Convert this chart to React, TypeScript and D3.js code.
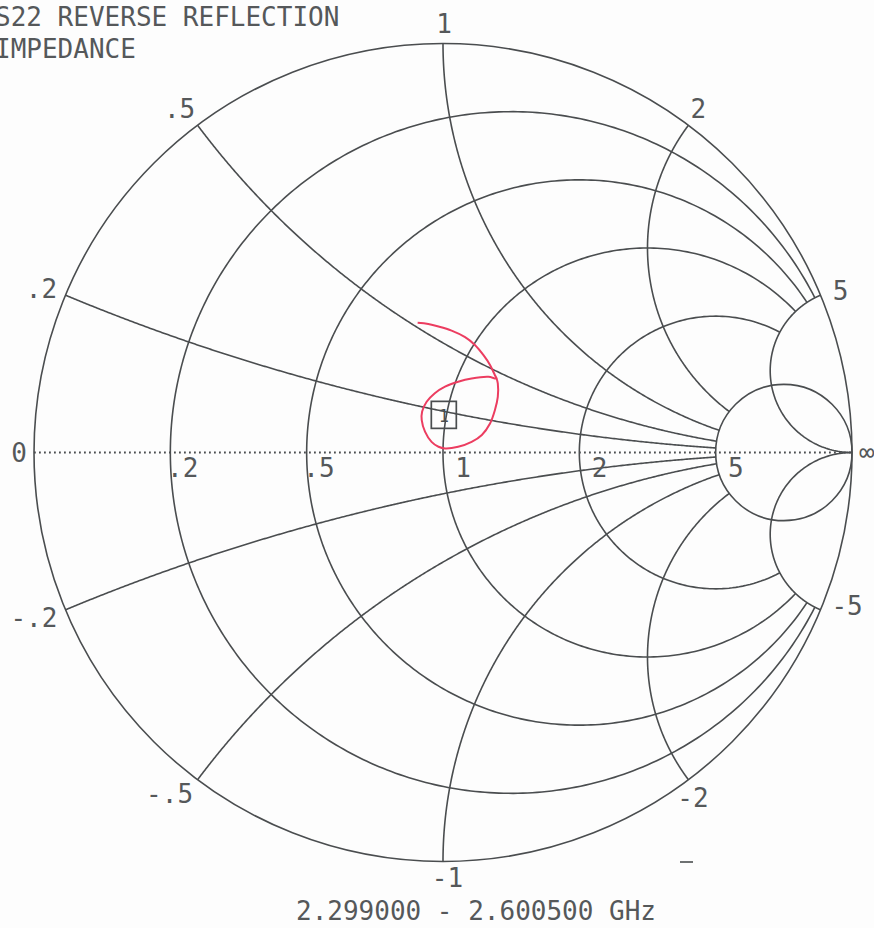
import React from "react";
import * as d3 from "d3";

// ---- data ----
const resistanceCircles = [0.2, 0.5, 1, 2];
const fullResistanceCircles = [5];
const reactanceArcs = [0.2, 0.5, 1, 2, -0.2, -0.5, -1, -2];
const fullReactanceArcs = [5, -5];
const rimLabelValues = [1, 0.5, 2, 0.2, 5, -0.2, -0.5, -1, -2, -5];
const rimLabels = ["1", ".5", "2", ".2", "5", "-.2", "-.5", "-1", "-2", "-5"];
const axisLabelValues = [0.2, 0.5, 1, 2, 5];
const axisLabels = [".2", ".5", "1", "2", "5"];
const titleLines = ["S22 REVERSE REFLECTION", "IMPEDANCE"];
const sweepLabel = "2.299000 - 2.600500 GHz";

// S22 trace (reflection coefficient, real / imaginary)
const traceRe = [
  -0.062, -0.036, -0.011, 0.021, 0.054, 0.078, 0.099, 0.115, 0.127, 0.131,
  0.111, 0.07, 0.037, 0.005, -0.02, -0.04, -0.051, -0.052, -0.044, -0.028,
  -0.011, 0.005, 0.037, 0.07, 0.095, 0.115, 0.127, 0.134, 0.134, 0.131,
];
const traceIm = [
  0.317, 0.314, 0.308, 0.298, 0.282, 0.263, 0.238, 0.214, 0.189, 0.181,
  0.185, 0.181, 0.173, 0.161, 0.145, 0.124, 0.1, 0.079, 0.051, 0.026,
  0.014, 0.01, 0.014, 0.026, 0.043, 0.071, 0.104, 0.136, 0.169, 0.181,
];
const markerRe = [0.002];
const markerIm = [0.092];
const markerLabels = ["1"];

// ---- layout ----
const W = 874;
const H = 928;
const CX = 443;
const CY = 452.5;
const R = 409;
const FONT = "'DejaVu Sans Mono', 'Liberation Mono', monospace";
const GRID = "#4a4d4f";
const TEXT = "#55585a";
const TRACE = "#ec3d60";
const FS = 26;
// per-label offsets from the rim point [dx, dy]
const rimOffsets: [number, number][] = [
  [1, -10.5], [-18, -7], [10, -7], [-24, 3], [20, 5],
  [-31.5, 17], [-28, 23], [4.5, 25.5], [4.5, 27], [26.5, 5],
];

function gamma(r: number, x: number): [number, number] {
  const den = (r + 1) * (r + 1) + x * x;
  return [(r * r + x * x - 1) / den, (2 * x) / den];
}

export default function App() {
  const xs = d3.scaleLinear().domain([-1, 1]).range([CX - R, CX + R]);
  const ys = d3.scaleLinear().domain([-1, 1]).range([CY + R, CY - R]);
  const line = d3
    .line<[number, number]>()
    .x((d) => xs(d[0]))
    .y((d) => ys(d[1]));

  const N = 400;
  const resPath = (r: number) => {
    const a = Math.atan(5);
    const pts = d3.range(N + 1).map((i) => gamma(r, Math.tan(-a + (2 * a * i) / N)));
    return line(pts) || "";
  };
  const reacPath = (x: number, tmax: number, toInf: boolean) => {
    const pts = d3.range(N + 1).map((i) => {
      const t = (tmax * i) / N;
      return gamma(t / (1 - t), x);
    });
    if (toInf) pts.push([1, 0]);
    return line(pts) || "";
  };

  const tracePts: [number, number][] = traceRe.map((v, i) => [v, traceIm[i]]);
  const traceLine = d3
    .line<[number, number]>()
    .x((d) => xs(d[0]))
    .y((d) => ys(d[1]))
    .curve(d3.curveCatmullRom.alpha(0.5));

  const unit = xs(1) - xs(0);

  return (
    <svg
      width={W}
      height={H}
      viewBox={`0 0 ${W} ${H}`}
      style={{ position: "absolute", left: 0, top: 0, background: "#fdfdfd" }}
    >
      <g fill="none" stroke={GRID} strokeWidth={1.6}>
        <circle cx={xs(0)} cy={ys(0)} r={unit} />
        {resistanceCircles.map((r) => (
          <path key={"r" + r} d={resPath(r)} />
        ))}
        {fullResistanceCircles.map((r) => (
          <circle key={"fr" + r} cx={xs(r / (1 + r))} cy={ys(0)} r={unit / (1 + r)} />
        ))}
        {reactanceArcs.map((x) => (
          <path key={"x" + x} d={reacPath(x, 5 / 6, false)} />
        ))}
        {fullReactanceArcs.map((x) => (
          <path key={"fx" + x} d={reacPath(x, 0.9999, true)} />
        ))}
        <line
          x1={xs(-1)}
          x2={xs(1)}
          y1={ys(0)}
          y2={ys(0)}
          strokeDasharray="1.8,3.2"
          strokeWidth={1.8}
        />
        <line x1={680} x2={693} y1={862} y2={862} />
      </g>

      <path d={traceLine(tracePts) || ""} fill="none" stroke={TRACE} strokeWidth={2} />

      {markerRe.map((m, i) => (
        <g key={"m" + i}>
          <rect
            x={xs(m) - 12.5}
            y={ys(markerIm[i]) - 13.5}
            width={25}
            height={27}
            fill="none"
            stroke={GRID}
            strokeWidth={1.7}
          />
          <text
            x={xs(m)}
            y={ys(markerIm[i]) + 7}
            fontFamily={FONT}
            fontSize={17}
            textAnchor="middle"
            fill={GRID}
          >
            {markerLabels[i]}
          </text>
        </g>
      ))}

      <g fontFamily={FONT} fontSize={FS} fill={TEXT}>
        {titleLines.map((t, i) => (
          <text key={"t" + i} x={-5} y={26 + i * 32}>
            {t}
          </text>
        ))}
        {rimLabelValues.map((v, i) => {
          const g = gamma(0, v);
          return (
            <text
              key={"rl" + i}
              x={xs(g[0]) + rimOffsets[i][0]}
              y={ys(g[1]) + rimOffsets[i][1]}
              textAnchor="middle"
            >
              {rimLabels[i]}
            </text>
          );
        })}
        {axisLabelValues.map((v, i) => (
          <text
            key={"al" + i}
            x={xs(gamma(v, 0)[0]) + 28}
            y={ys(0) + 24.5}
            textAnchor="end"
          >
            {axisLabels[i]}
          </text>
        ))}
        <text x={xs(-1) - 15} y={ys(0) + 9.5} textAnchor="middle">
          0
        </text>
        <text x={xs(1) + 7} y={ys(0) + 8}>
          ∞
        </text>
        <text x={476} y={920} textAnchor="middle">
          {sweepLabel}
        </text>
      </g>
    </svg>
  );
}
